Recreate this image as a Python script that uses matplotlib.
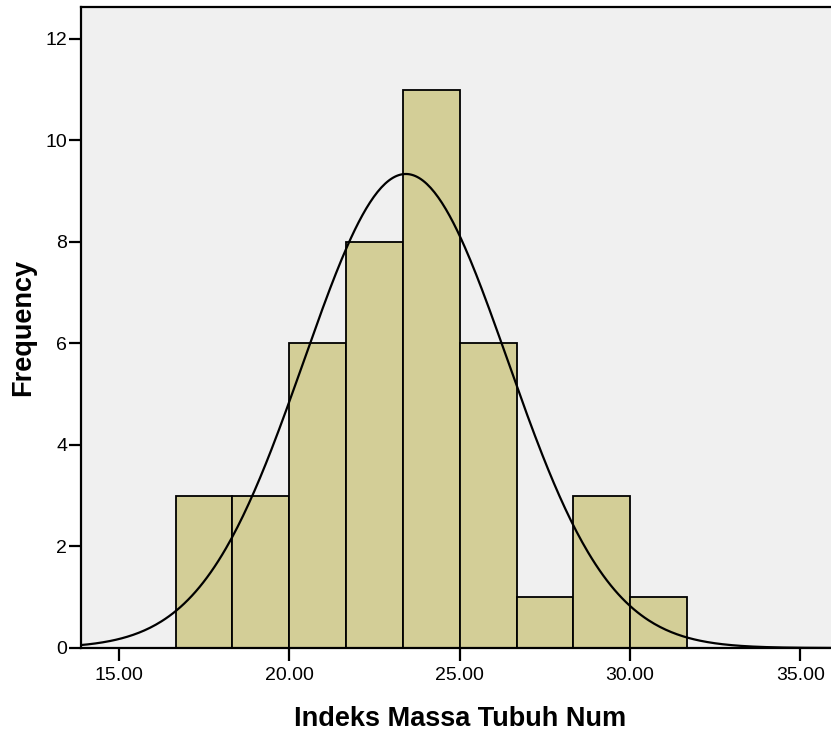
import numpy as np
import matplotlib
matplotlib.use("Agg")
import matplotlib.pyplot as plt
import matplotlib.ticker as ticker

# histogram bins (Indeks Massa Tubuh Num) and counts
bin_edges = [16.67, 18.33, 20.00, 21.67, 23.33, 25.00, 26.67, 28.33, 30.00, 31.67]
counts = [3, 3, 6, 8, 11, 6, 1, 3, 1]
# normal curve summary
mean_val = 23.42
sd_val = 2.99
n_total = sum(counts)

x_ticks = [15, 20, 25, 30, 35]
y_ticks = [0, 2, 4, 6, 8, 10, 12]

plt.rcParams['font.family'] = ['Liberation Sans', 'DejaVu Sans']

fig = plt.figure(figsize=(8.31, 7.33), dpi=100)
ax = fig.add_axes([81 / 831, 85 / 733, 750 / 831, 641 / 733])
ax.set_facecolor('#f0f0f0')

widths = np.diff(bin_edges)
ax.bar(bin_edges[:-1], counts, width=widths, align='edge',
       color='#d3ce97', edgecolor='black', linewidth=1.3, zorder=2)

bw = widths.mean()
xs = np.linspace(13.8, 36, 400)
ys = n_total * bw / (sd_val * np.sqrt(2 * np.pi)) * np.exp(-0.5 * ((xs - mean_val) / sd_val) ** 2)
ax.plot(xs, ys, color='black', linewidth=1.6, zorder=3)

ax.set_xlim(13.885, 35.90)
ax.set_ylim(0, 12.63)
ax.set_xticks(x_ticks)
ax.set_yticks(y_ticks)
ax.xaxis.set_major_formatter(ticker.FormatStrFormatter('%.2f'))

ax.spines['right'].set_visible(False)
for s in ['left', 'bottom', 'top']:
    ax.spines[s].set_linewidth(1.6)

ax.tick_params(axis='x', direction='out', length=9, width=1.6, pad=5, labelsize=14)
ax.tick_params(axis='y', direction='out', length=9, width=1.6, pad=1, labelsize=14)

ax.set_xlabel('Indeks Massa Tubuh Num', fontsize=19.5, fontweight='bold')
ax.set_ylabel('Frequency', fontsize=19.5, fontweight='bold')
ax.xaxis.set_label_coords(0.505, -0.090)
ax.yaxis.set_label_coords(-0.060, 0.5)

fig.savefig('out.png', dpi=100)
